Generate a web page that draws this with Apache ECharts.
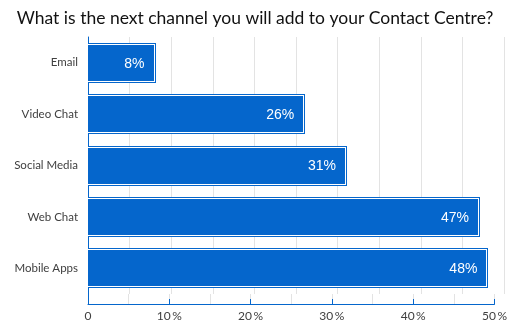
<!DOCTYPE html>
<html>
<head>
<meta charset="utf-8">
<script src="https://cdn.jsdelivr.net/npm/echarts@6/dist/echarts.min.js"></script>
<style>
  html, body { margin: 0; padding: 0; background: #fff; }
  #chart { width: 510px; height: 325px; }
</style>
</head>
<body>
<div id="chart"></div>
<script>
// Survey: next channel to be added to the contact centre
const categories = ['Email', 'Video Chat', 'Social Media', 'Web Chat', 'Mobile Apps'];
const shares = [8, 26, 31, 47, 48];
const axisMin = 0;
const axisMax = 50;
const axisStep = 10;

const BLUE = '#0566CC';
const GRID_GRAY = '#E3E3E3';
const TEXT_GRAY = '#404040';

const chart = echarts.init(document.getElementById('chart'));

// Each bar: blue fill, thin white inner frame, blue outer edge
function renderBar(params, api) {
  const v = api.value(0);
  const c = api.value(1);
  const p0 = api.coord([0, c]);
  const p1 = api.coord([v, c]);
  const band = api.size([0, 1])[1];
  const h = Math.round(band * 0.78);
  const y = Math.round(p0[1] - h / 2);
  const x0 = Math.round(p0[0]);
  const xe = Math.round(p1[0]) + 1;
  return {
    type: 'group',
    children: [
      { type: 'rect', shape: { x: x0, y: y, width: xe - x0, height: h }, style: { fill: BLUE } },
      { type: 'rect', shape: { x: x0, y: y + 1, width: xe - x0 - 1, height: h - 2 }, style: { fill: '#fff' } },
      { type: 'rect', shape: { x: x0, y: y + 2, width: xe - x0 - 2, height: h - 4 }, style: { fill: BLUE } },
      {
        type: 'text',
        style: {
          text: v + '%',
          x: p1[0] - 10,
          y: p0[1] + 1,
          align: 'right',
          verticalAlign: 'middle',
          fill: '#fff',
          font: '14px "Liberation Sans", Arial, sans-serif'
        }
      }
    ]
  };
}

const valueAxisBase = {
  type: 'value',
  min: axisMin,
  max: axisMax,
  interval: axisStep,
  splitLine: { show: true, lineStyle: { color: GRID_GRAY, width: 1 } },
  minorTick: { show: false, splitNumber: 2 },
  minorSplitLine: { show: true, lineStyle: { color: GRID_GRAY, width: 1 } }
};

chart.setOption({
  animation: false,
  title: {
    text: 'What is the next channel you will add to your Contact Centre?',
    left: 'center',
    top: 4,
    textStyle: {
      fontFamily: 'Lato, "Open Sans", sans-serif',
      fontWeight: 'normal',
      fontSize: 17.5,
      color: '#111'
    }
  },
  grid: [
    { left: 88, right: 6, top: 37, bottom: 31 },
    { left: 88, right: 6, top: 294, bottom: 21 }
  ],
  xAxis: [
    Object.assign({}, valueAxisBase, {
      gridIndex: 0,
      axisLine: { show: false },
      axisTick: { show: false },
      axisLabel: { show: false }
    }),
    Object.assign({}, valueAxisBase, {
      gridIndex: 1,
      axisLine: { show: true, lineStyle: { color: BLUE, width: 1 } },
      axisTick: { show: true, inside: true, length: 5, lineStyle: { color: BLUE } },
      axisLabel: {
        show: true,
        margin: 6,
        color: TEXT_GRAY,
        fontFamily: 'Lato, "Open Sans", sans-serif',
        fontSize: 12,
        formatter: v => (v === 0 ? '0' : v + '\u2009%')
      }
    })
  ],
  yAxis: [
    {
      type: 'category',
      gridIndex: 0,
      data: categories,
      inverse: true,
      axisLine: { show: true, lineStyle: { color: BLUE, width: 1 } },
      axisTick: { show: false },
      splitLine: { show: false },
      axisLabel: {
        margin: 10,
        color: TEXT_GRAY,
        fontFamily: 'Lato, "Open Sans", sans-serif',
        fontSize: 11.5
      }
    },
    {
      type: 'value',
      gridIndex: 1,
      min: 0,
      max: 1,
      axisLine: { show: true, lineStyle: { color: BLUE, width: 1 } },
      axisTick: { show: false },
      axisLabel: { show: false },
      splitLine: { show: false }
    }
  ],
  series: [
    {
      type: 'custom',
      xAxisIndex: 0,
      yAxisIndex: 0,
      renderItem: renderBar,
      encode: { x: 0, y: 1 },
      data: shares.map((v, i) => [v, i])
    }
  ]
});
</script>
</body>
</html>
